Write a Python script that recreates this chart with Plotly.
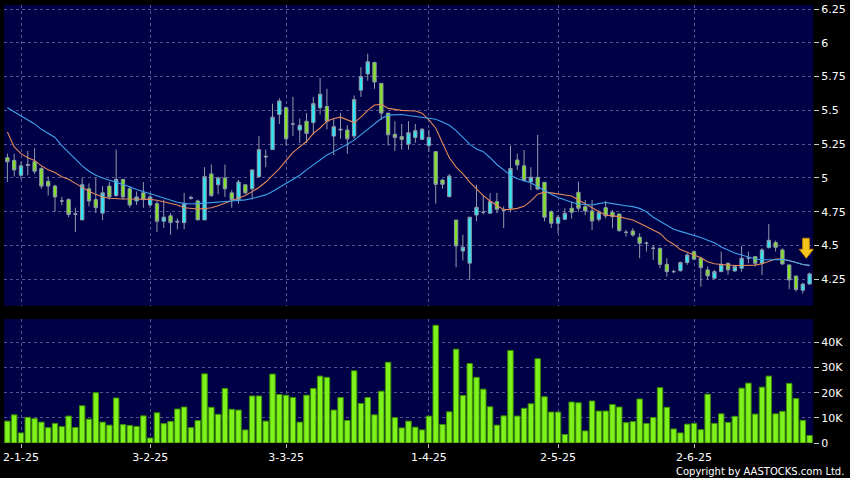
import pandas as pd
import plotly.graph_objects as go

# ---- trading calendar (HK) ----
hk_holidays = ["2025-01-01", "2025-01-29", "2025-01-30", "2025-01-31", "2025-04-04",
               "2025-04-18", "2025-04-21", "2025-05-01", "2025-05-05"]
dates = [d.strftime("%Y-%m-%d") for d in pd.bdate_range("2024-12-30", "2025-06-25")
         if d.strftime("%Y-%m-%d") not in hk_holidays]

tick_dates = ["2025-01-02", "2025-02-03", "2025-03-03", "2025-04-01", "2025-05-02", "2025-06-02"]
tick_labels = ["2-1-25", "3-2-25", "3-3-25", "1-4-25", "2-5-25", "2-6-25"]

price_ticks = [4.25, 4.5, 4.75, 5, 5.25, 5.5, 5.75, 6, 6.25]
price_tick_labels = ["4.25", "4.5", "4.75", "5", "5.25", "5.5", "5.75", "6", "6.25"]
vol_ticks = [0, 10, 20, 30, 40]
vol_tick_labels = ["0", "10K", "20K", "30K", "40K"]

opens = [5.15, 5.13, 5.02, 5.10, 5.12, 5.07, 4.975, 4.94, 4.83, 4.84,
         4.735, 4.69, 4.92, 4.84, 4.74, 4.94, 4.87, 4.99, 4.92, 4.83,
         4.89, 4.80, 4.81, 4.68, 4.72, 4.68, 4.67, 4.85, 4.83, 4.69,
         5.03, 4.95, 5.00, 4.89, 4.84, 4.95, 4.92, 5.01, 5.155, 5.21,
         5.47, 5.52, 5.40, 5.355, 5.42, 5.41, 5.52, 5.53, 5.31, 5.355,
         5.355, 5.31, 5.65, 5.77, 5.855, 5.70, 5.48, 5.323, 5.306, 5.25,
         5.30, 5.286, 5.24, 5.195, 4.985, 4.862, 4.689, 4.46, 4.37, 4.726,
         4.746, 4.739, 4.825, 4.763, 4.776, 5.133, 5.09, 4.973, 5.005, 4.968,
         4.751, 4.665, 4.694, 4.776, 4.894, 4.788, 4.756, 4.694, 4.78, 4.746,
         4.734, 4.598, 4.608, 4.561, 4.517, 4.48, 4.48, 4.361, 4.307, 4.314,
         4.374, 4.455, 4.406, 4.32, 4.258, 4.307, 4.369, 4.312, 4.332, 4.406,
         4.418, 4.369, 4.485, 4.522, 4.468, 4.357, 4.275, 4.17, 4.216]

highs = [5.18, 5.18, 5.12, 5.20, 5.22, 5.08, 5.01, 4.95, 4.86, 4.85,
         4.78, 5.00, 4.96, 5.00, 4.94, 4.97, 5.21, 4.99, 4.94, 4.90,
         4.97, 4.89, 4.83, 4.84, 4.74, 4.70, 4.89, 4.87, 4.84, 5.08,
         5.10, 5.01, 5.10, 4.91, 4.985, 4.95, 5.06, 5.31, 5.21, 5.55,
         5.59, 5.53, 5.60, 5.44, 5.48, 5.60, 5.74, 5.66, 5.44, 5.48,
         5.39, 5.61, 5.82, 5.92, 5.86, 5.70, 5.48, 5.42, 5.40, 5.42,
         5.40, 5.37, 5.355, 5.20, 4.99, 5.03, 4.69, 4.58, 4.71, 4.95,
         4.87, 4.887, 4.89, 4.79, 5.24, 5.18, 5.207, 5.08, 5.318, 4.97,
         4.76, 4.726, 4.776, 4.825, 4.973, 4.837, 4.837, 4.763, 4.83, 4.763,
         4.734, 4.615, 4.628, 4.591, 4.53, 4.505, 4.48, 4.406, 4.32, 4.381,
         4.443, 4.463, 4.418, 4.344, 4.32, 4.455, 4.374, 4.35, 4.497, 4.455,
         4.418, 4.48, 4.66, 4.537, 4.48, 4.357, 4.275, 4.225, 4.30]

lows = [4.97, 5.01, 4.99, 5.02, 5.03, 4.92, 4.87, 4.75, 4.80, 4.71,
        4.60, 4.69, 4.79, 4.74, 4.69, 4.84, 4.86, 4.84, 4.78, 4.80,
        4.78, 4.78, 4.60, 4.63, 4.58, 4.62, 4.62, 4.84, 4.69, 4.69,
        4.86, 4.88, 4.86, 4.78, 4.81, 4.88, 4.84, 5.00, 5.08, 5.21,
        5.40, 5.24, 5.31, 5.26, 5.26, 5.32, 5.47, 5.36, 5.17, 5.29,
        5.18, 5.29, 5.60, 5.72, 5.66, 5.43, 5.24, 5.20, 5.21, 5.21,
        5.26, 5.28, 5.195, 4.81, 4.92, 4.857, 4.34, 4.39, 4.245, 4.68,
        4.73, 4.739, 4.739, 4.63, 4.746, 5.06, 4.975, 4.91, 4.91, 4.68,
        4.63, 4.59, 4.69, 4.70, 4.751, 4.726, 4.615, 4.677, 4.70, 4.628,
        4.603, 4.566, 4.566, 4.406, 4.455, 4.394, 4.332, 4.27, 4.295, 4.307,
        4.357, 4.394, 4.196, 4.246, 4.258, 4.307, 4.283, 4.307, 4.307, 4.369,
        4.344, 4.283, 4.478, 4.455, 4.357, 4.177, 4.16, 4.145, 4.21]

closes = [5.12, 5.06, 5.09, 5.095, 5.05, 4.94, 4.94, 4.86, 4.83, 4.73,
          4.73, 4.95, 4.83, 4.78, 4.89, 4.86, 4.99, 4.86, 4.80, 4.86,
          4.84, 4.86, 4.68, 4.71, 4.67, 4.675, 4.81, 4.855, 4.69, 5.01,
          4.87, 5.00, 4.92, 4.84, 4.97, 4.89, 5.06, 5.21, 5.16, 5.45,
          5.57, 5.29, 5.40, 5.39, 5.33, 5.55, 5.62, 5.42, 5.38, 5.36,
          5.29, 5.58, 5.75, 5.86, 5.71, 5.48, 5.32, 5.30, 5.286, 5.335,
          5.35, 5.36, 5.30, 4.953, 4.953, 5.015, 4.497, 4.488, 4.71, 4.783,
          4.746, 4.825, 4.768, 4.76, 5.07, 5.096, 4.98, 5.005, 4.918, 4.709,
          4.665, 4.709, 4.739, 4.746, 4.776, 4.756, 4.682, 4.746, 4.72, 4.714,
          4.61, 4.598, 4.578, 4.517, 4.517, 4.48, 4.361, 4.307, 4.307, 4.374,
          4.43, 4.399, 4.337, 4.275, 4.307, 4.361, 4.32, 4.344, 4.406, 4.406,
          4.369, 4.468, 4.539, 4.487, 4.364, 4.246, 4.175, 4.215, 4.29]

ma10 = [5.34, 5.23, 5.18, 5.15, 5.13, 5.09, 5.06, 5.04, 5.01, 4.99,
        4.96, 4.93, 4.90, 4.88, 4.86, 4.85, 4.845, 4.845, 4.845, 4.845,
        4.843, 4.842, 4.835, 4.825, 4.81, 4.80, 4.78, 4.775, 4.771, 4.773,
        4.78, 4.795, 4.813, 4.83, 4.85, 4.87, 4.899, 4.93, 4.97, 5.02,
        5.07, 5.13, 5.19, 5.23, 5.27, 5.33, 5.37, 5.42, 5.44, 5.45,
        5.43, 5.41, 5.45, 5.50, 5.54, 5.545, 5.515, 5.505, 5.50, 5.498,
        5.496, 5.48, 5.43, 5.37, 5.26, 5.15, 5.08, 5.03, 4.97, 4.92,
        4.87, 4.83, 4.80, 4.765, 4.768, 4.775, 4.79, 4.83, 4.88, 4.895,
        4.89, 4.88, 4.874, 4.867, 4.84, 4.81, 4.78, 4.75, 4.726, 4.72,
        4.714, 4.70, 4.689, 4.665, 4.64, 4.615, 4.59, 4.54, 4.51, 4.47,
        4.45, 4.43, 4.41, 4.38, 4.365, 4.36, 4.355, 4.352, 4.352, 4.352,
        4.355, 4.365, 4.385, 4.40, 4.40, 4.39, 4.375, 4.36, 4.35]

ma20 = [5.52, 5.49, 5.46, 5.43, 5.40, 5.36, 5.33, 5.30, 5.24, 5.19,
        5.14, 5.09, 5.05, 5.02, 5.00, 4.985, 4.97, 4.95, 4.935, 4.915,
        4.90, 4.88, 4.865, 4.85, 4.835, 4.82, 4.812, 4.808, 4.81, 4.813,
        4.818, 4.823, 4.826, 4.83, 4.834, 4.838, 4.848, 4.86, 4.875, 4.90,
        4.93, 4.965, 4.99, 5.02, 5.06, 5.095, 5.13, 5.17, 5.195, 5.22,
        5.25, 5.28, 5.32, 5.36, 5.40, 5.44, 5.465, 5.47, 5.47, 5.462,
        5.455, 5.45, 5.443, 5.435, 5.415, 5.39, 5.35, 5.30, 5.25, 5.215,
        5.195, 5.15, 5.10, 5.06, 5.02, 4.995, 4.98, 4.965, 4.935, 4.905,
        4.88, 4.855, 4.835, 4.82, 4.808, 4.805, 4.80, 4.81, 4.818, 4.81,
        4.80, 4.795, 4.788, 4.775, 4.75, 4.71, 4.68, 4.65, 4.62, 4.605,
        4.59, 4.58, 4.56, 4.54, 4.52, 4.49, 4.465, 4.445, 4.43, 4.415,
        4.40, 4.395, 4.394, 4.395, 4.398, 4.39, 4.375, 4.36, 4.355]

volumes_k = [8.7, 11.2, 4.0, 10.2, 9.7, 8.3, 6.1, 7.8, 6.5, 10.7,
             6.2, 14.8, 9.5, 20.0, 8.3, 7.1, 17.9, 7.3, 7.0, 6.6,
             10.8, 2.0, 12.0, 7.7, 8.6, 13.5, 14.3, 6.1, 8.9, 27.5,
             14.2, 11.4, 21.7, 13.4, 13.1, 5.2, 18.7, 18.7, 8.7, 27.4,
             19.3, 19.0, 18.1, 8.3, 19.0, 21.7, 26.6, 26.1, 13.1, 18.1,
             9.0, 28.7, 15.7, 18.1, 11.2, 20.6, 32.1, 10.1, 6.0, 8.7,
             6.3, 5.2, 10.7, 46.8, 7.4, 12.4, 37.3, 18.9, 31.6, 26.1,
             21.4, 14.4, 7.1, 10.8, 36.8, 10.7, 13.8, 15.6, 33.5, 18.4,
             12.3, 12.3, 3.4, 16.3, 16.0, 4.8, 16.7, 12.7, 12.7, 15.3,
             14.3, 8.1, 8.5, 17.5, 7.8, 10.1, 22.0, 14.2, 5.6, 4.0,
             7.5, 7.8, 5.3, 19.4, 7.8, 11.6, 8.2, 10.6, 21.8, 23.8,
             11.5, 22.2, 26.6, 11.6, 12.6, 23.7, 17.7, 9.0, 3.0]

# ---- styling ----
NAVY = "#000046"
GRID = "#55558e"
FONT = dict(family="DejaVu Sans", size=11, color="#ffffff")
W, H = 850, 478
L, R, T, B = 4, 37, 5, 35
plot_w = W - L - R
plot_h = H - T - B

def py(pix):
    return (H - B - pix) / plot_h

def px(pix):
    return (pix - L) / plot_w

fig = go.Figure()

fig.add_trace(go.Candlestick(
    x=dates, open=opens, high=highs, low=lows, close=closes,
    xaxis="x2", yaxis="y",
    increasing=dict(fillcolor="#2ee6f4", line=dict(color="#8e9cab", width=1)),
    decreasing=dict(fillcolor="#84e024", line=dict(color="#8e9cab", width=1)),
    whiskerwidth=0, showlegend=False, hoverinfo="skip"))

fig.add_trace(go.Scatter(x=dates, y=ma10, xaxis="x2", yaxis="y", mode="lines",
                         line=dict(color="#e2895a", width=1.1), showlegend=False, hoverinfo="skip"))
fig.add_trace(go.Scatter(x=dates, y=ma20, xaxis="x2", yaxis="y", mode="lines",
                         line=dict(color="#3ea2ea", width=1.1), showlegend=False, hoverinfo="skip"))

fig.add_trace(go.Bar(x=dates, y=volumes_k, xaxis="x", yaxis="y2",
                     marker=dict(color="#7ff21c", line=dict(color="#3b8f05", width=1)),
                     showlegend=False, hoverinfo="skip"))

common_x = dict(type="category", categoryorder="array", categoryarray=dates,
                range=[-0.5, len(dates) - 0.5], tickvals=tick_dates,
                showgrid=True, gridcolor=GRID, griddash="3px,3px", gridwidth=1,
                zeroline=False, showline=False)

fig.update_layout(
    width=W, height=H,
    paper_bgcolor="#000000", plot_bgcolor="#000000",
    margin=dict(l=L, r=R, t=T, b=B),
    font=FONT, showlegend=False, bargap=0.2, hovermode=False,
    xaxis=dict(**common_x, domain=[0, 1], anchor="y2", ticktext=tick_labels,
               ticks="outside", ticklen=4, tickcolor="#bbbbbb", tickfont=FONT),
    xaxis2=dict(**common_x, domain=[0, 1], anchor="y", matches="x",
                showticklabels=False, ticks="", rangeslider=dict(visible=False)),
    yaxis=dict(domain=[py(305.7), 1], side="right", range=[4.055, 6.28],
               tickvals=price_ticks, ticktext=price_tick_labels,
               ticks="outside", ticklen=5, tickcolor="#cccccc", tickfont=FONT,
               showgrid=True, gridcolor=GRID, griddash="3px,3px", gridwidth=1,
               zeroline=False, showline=False),
    yaxis2=dict(domain=[0, py(319)], side="right", range=[0, 49.3],
                tickvals=vol_ticks, ticktext=vol_tick_labels,
                ticks="outside", ticklen=5, tickcolor="#cccccc", tickfont=FONT,
                showgrid=True, gridcolor=GRID, griddash="3px,3px", gridwidth=1,
                zeroline=False, showline=False),
)

# navy panel backgrounds
for xr, yr in (("x domain", "y domain"), ("x domain", "y2 domain")):
    fig.add_shape(type="rect", xref=xr, yref=yr, x0=0, x1=1, y0=0, y1=1,
                  fillcolor=NAVY, line=dict(width=0), layer="below")

# yellow down arrow marker
ax0, ax1, hx0, hx1, tx = px(802.7), px(809.3), px(799.3), px(813.3), px(806.3)
ay0, ay1, ty = py(238.3), py(249.3), py(258.3)
fig.add_shape(type="path", xref="paper", yref="paper",
              path=f"M {ax0},{ay0} L {ax1},{ay0} L {ax1},{ay1} L {hx1},{ay1} "
                   f"L {tx},{ty} L {hx0},{ay1} L {ax0},{ay1} Z",
              fillcolor="#f6c51c", line=dict(color="#c98a00", width=1))

fig.add_annotation(text="Copyright by AASTOCKS.com Ltd.", xref="paper", yref="paper",
                   x=px(846), y=py(471), xanchor="right", yanchor="middle",
                   showarrow=False, font=dict(family="DejaVu Sans", size=10, color="#ffffff"))

fig.write_html("out.html",
               config={"displayModeBar": False, "staticPlot": True},
               post_script="document.body.style.margin='0';document.body.style.background='#000';"
                           "document.documentElement.style.overflow='hidden';")
